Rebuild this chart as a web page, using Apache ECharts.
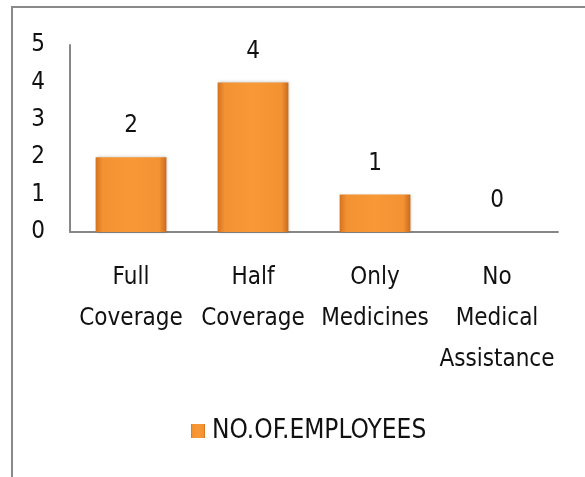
<!DOCTYPE html>
<html>
<head>
<meta charset="utf-8">
<script src="https://cdn.jsdelivr.net/npm/echarts@6/dist/echarts.min.js"></script>
<style>
  html, body { margin: 0; padding: 0; background: #ffffff; }
  #chart { width: 585px; height: 477px; }
</style>
</head>
<body>
<div id="chart"></div>
<script>
// Medical coverage categories and head counts
const categories = ['Full\nCoverage', 'Half\nCoverage', 'Only\nMedicines', 'No\nMedical\nAssistance'];
const employees = [2, 4, 1, 0];
const seriesName = 'NO.OF.EMPLOYEES';
const yTicks = [0, 1, 2, 3, 4, 5];

const FONT = '"DejaVu Sans Condensed", "Liberation Sans Narrow", sans-serif';
const TEXT = '#111111';
const AXIS = '#878787';
const SIZE = 24;

// Bevelled orange look: darker edges, bright centre
const barFill = new echarts.graphic.LinearGradient(0, 0, 1, 0, [
  { offset: 0, color: '#d4731f' },
  { offset: 0.1, color: '#f39232' },
  { offset: 0.5, color: '#f99836' },
  { offset: 0.9, color: '#f39232' },
  { offset: 1, color: '#c96b1c' }
]);

const chart = echarts.init(document.getElementById('chart'), null, { renderer: 'canvas' });

chart.setOption({
  backgroundColor: '#ffffff',
  animation: false,
  graphic: [{
    type: 'rect',
    shape: { x: 12, y: 7, width: 640, height: 540 },
    style: { fill: 'none', stroke: '#8a8a8a', lineWidth: 2 },
    z: 10
  }],
  grid: { left: 70, right: 27, top: 45, bottom: 245, containLabel: false },
  legend: {
    data: [seriesName],
    left: 186,
    top: 413,
    itemWidth: 14,
    itemHeight: 14,
    icon: 'rect',
    textStyle: { fontFamily: FONT, fontSize: 26, color: TEXT, padding: [0, 0, 0, 2] }
  },
  xAxis: {
    type: 'category',
    data: categories,
    axisLine: { show: true, lineStyle: { color: AXIS, width: 2 } },
    axisTick: { show: false },
    axisLabel: {
      interval: 0,
      margin: 25,
      fontFamily: FONT,
      fontSize: SIZE,
      lineHeight: 41,
      color: TEXT,
      align: 'center'
    }
  },
  yAxis: {
    type: 'value',
    min: yTicks[0],
    max: yTicks[yTicks.length - 1],
    interval: 1,
    splitLine: { show: false },
    axisLine: { show: true, lineStyle: { color: AXIS, width: 2 } },
    axisTick: { show: false },
    axisLabel: {
      margin: 25,
      padding: [5, 0, 0, 0],
      fontFamily: FONT,
      fontSize: SIZE,
      color: TEXT
    }
  },
  series: [{
    name: seriesName,
    type: 'bar',
    data: employees,
    barWidth: '58%',
    itemStyle: {
      color: barFill,
      borderWidth: 0,
      shadowColor: 'rgba(0,0,0,0.25)',
      shadowBlur: 3,
      shadowOffsetX: 1,
      shadowOffsetY: 0
    },
    label: {
      show: true,
      position: 'top',
      distance: 19,
      fontFamily: FONT,
      fontSize: SIZE,
      color: TEXT
    }
  }]
});
</script>
</body>
</html>
